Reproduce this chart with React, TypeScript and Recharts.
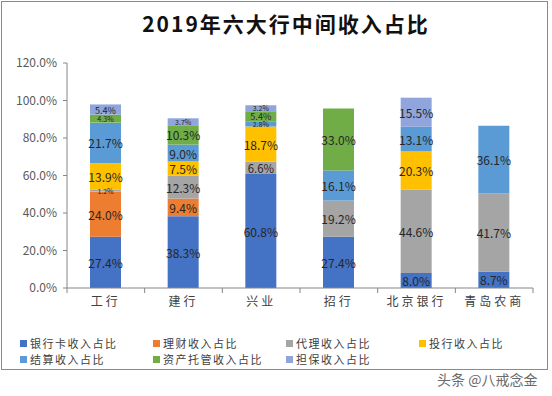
import React from "react";
import { BarChart, Bar, XAxis, YAxis, LabelList } from "recharts";

const banks = ["工行", "建行", "兴业", "招行", "北京银行", "青岛农商"];

// share of fee income, % (bottom to top of each stack)
const cardShare = [27.4, 38.3, 60.8, 27.4, 8.0, 8.7];
const wealthShare = [24.0, 9.4, 0, 0, 0, 0];
const agencyShare = [1.2, 12.3, 6.6, 19.2, 44.6, 41.7];
const ibankShare = [13.9, 7.5, 18.7, 0, 20.3, 0];
const settleShare = [21.7, 9.0, 2.8, 16.1, 13.1, 36.1];
const custodyShare = [4.3, 10.3, 5.4, 33.0, 0, 0];
const guaranteeShare = [5.4, 3.7, 3.2, 0, 15.5, 0];

const yTicks = [0, 20, 40, 60, 80, 100, 120];

const series = [
  { key: "card", name: "银行卡收入占比", color: "#4472C4", values: cardShare },
  { key: "wealth", name: "理财收入占比", color: "#ED7D31", values: wealthShare },
  { key: "agency", name: "代理收入占比", color: "#A5A5A5", values: agencyShare },
  { key: "ibank", name: "投行收入占比", color: "#FFC000", values: ibankShare },
  { key: "settle", name: "结算收入占比", color: "#5B9BD5", values: settleShare },
  { key: "custody", name: "资产托管收入占比", color: "#70AD47", values: custodyShare },
  { key: "guarantee", name: "担保收入占比", color: "#8FA5DC", values: guaranteeShare },
];

const data = banks.map((bank, i) => {
  const row: Record<string, string | number> = { bank };
  series.forEach((s) => {
    row[s.key] = s.values[i];
  });
  return row;
});

const FONT = "'Noto Sans CJK SC', 'Noto Sans', sans-serif";

const SegmentLabel = (props: any) => {
  const { x, y, width, height, value } = props;
  if (!value) return null;
  // thin segments get a smaller label so neighbours don't pile up
  const size = Math.max(7, Math.min(12, Math.abs(height) - 1));
  return (
    <text
      x={x + width / 2}
      y={y + height / 2}
      textAnchor="middle"
      dominantBaseline="central"
      fontSize={size}
      fontFamily={FONT}
      fill="#262626"
    >
      {`${Number(value).toFixed(1)}%`}
    </text>
  );
};

const BankTick = (props: any) => {
  const { x, y, width, payload, index } = props;
  const band = width / banks.length;
  const left = x - band / 2;
  return (
    <g>
      <line x1={left} y1={y} x2={left} y2={y + 5} stroke="#868686" />
      {index === banks.length - 1 && (
        <line x1={left + band} y1={y} x2={left + band} y2={y + 5} stroke="#868686" />
      )}
      <text
        x={x}
        y={y}
        dy={18}
        textAnchor="middle"
        fontSize={12}
        fontFamily={FONT}
        letterSpacing={3}
        fill="#404040"
      >
        {payload.value}
      </text>
    </g>
  );
};

export default function App() {
  return (
    <div
      style={{
        position: "absolute",
        left: 0,
        top: 0,
        width: 552,
        height: 396,
        background: "#fff",
        fontFamily: FONT,
      }}
    >
      <div
        style={{
          position: "absolute",
          left: 1,
          top: 1,
          width: 547,
          height: 369,
          border: "1px solid #8a8a8a",
          boxSizing: "border-box",
        }}
      />
      <div
        style={{
          position: "absolute",
          left: 0,
          width: 572,
          top: 9,
          textAlign: "center",
          fontSize: 21,
          fontWeight: 700,
          letterSpacing: 2,
          color: "#111",
          lineHeight: "28px",
        }}
      >
        2019年六大行中间收入占比
      </div>

      <div style={{ position: "absolute", left: 0, top: 0 }}>
        <BarChart
          width={552}
          height={396}
          data={data}
          margin={{ top: 63, right: 19, bottom: 78, left: 0 }}
          barSize={31}
        >
          <XAxis
            dataKey="bank"
            height={30}
            tickSize={0}
            tickMargin={0}
            axisLine={{ stroke: "#868686" }}
            tickLine={false}
            tick={<BankTick />}
            interval={0}
          />
          <YAxis
            width={67}
            domain={[0, 120]}
            ticks={yTicks}
            tickFormatter={(v: number) => `${v.toFixed(1)}%`}
            axisLine={{ stroke: "#868686" }}
            tickLine={{ stroke: "#868686" }}
            tickSize={4}
            tickMargin={6}
            tick={{ fontSize: 12, fill: "#595959", fontFamily: FONT }}
          />
          {series.map((s) => (
            <Bar
              key={s.key}
              dataKey={s.key}
              name={s.name}
              stackId="a"
              fill={s.color}
              isAnimationActive={false}
            >
              <LabelList dataKey={s.key} content={<SegmentLabel />} />
            </Bar>
          ))}
        </BarChart>
      </div>

      <div
        style={{
          position: "absolute",
          left: 20,
          top: 336,
          display: "grid",
          gridTemplateColumns: "133px 133px 133px 133px",
          rowGap: 2,
          fontSize: 11,
          letterSpacing: 1.5,
          color: "#404040",
          lineHeight: "14px",
        }}
      >
        {series.map((s) => (
          <div key={s.key} style={{ display: "flex", alignItems: "center" }}>
            <span
              style={{
                display: "inline-block",
                width: 7,
                height: 7,
                background: s.color,
                marginRight: 3,
              }}
            />
            {s.name}
          </div>
        ))}
      </div>

      <div
        style={{
          position: "absolute",
          left: 437,
          top: 369,
          fontSize: 14,
          color: "#6a6a6a",
          whiteSpace: "nowrap",
        }}
      >
        头条 @八戒念金
      </div>
    </div>
  );
}
